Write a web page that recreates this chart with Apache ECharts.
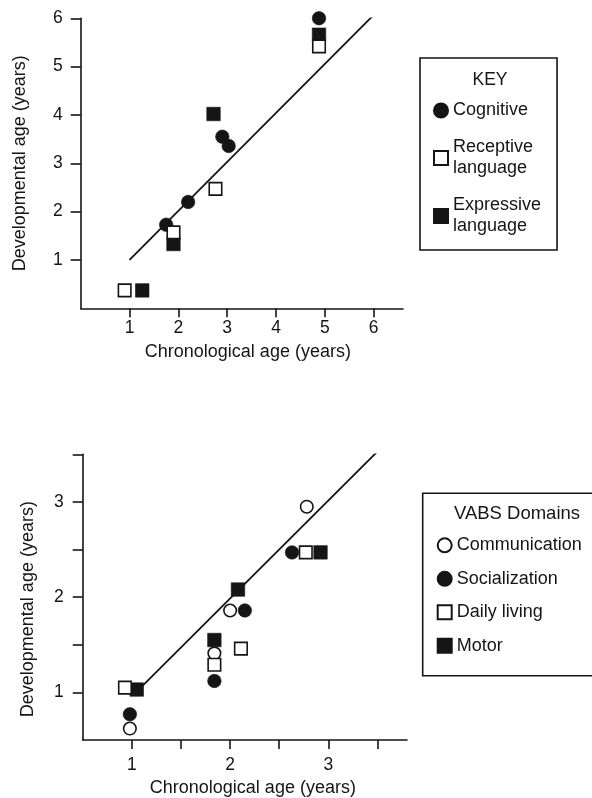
<!DOCTYPE html>
<html>
<head>
<meta charset="utf-8">
<script src="https://cdn.jsdelivr.net/npm/echarts@6/dist/echarts.min.js"></script>
<style>
  html, body { margin: 0; padding: 0; background: #fff; }
  #chart { width: 592px; height: 798px; }
</style>
</head>
<body>
<div id="chart"></div>
<script>
// Upper panel: developmental vs chronological age by test domain
const keyNames = ['Cognitive', 'Receptive language', 'Expressive language'];
const cognitive = [[4.88, 6.0], [2.9, 3.55], [3.03, 3.36], [2.2, 2.2], [1.75, 1.73]];
const receptive = [[4.88, 5.42], [2.76, 2.47], [1.9, 1.57], [0.9, 0.37]];
const expressive = [[4.88, 5.66], [2.72, 4.02], [1.9, 1.33], [1.26, 0.37]];
const fitUpper = [[1, 1], [6, 6.07]];
const upperTicks = [1, 2, 3, 4, 5, 6];

// Lower panel: VABS domain age equivalents
const vabsNames = ['Communication', 'Socialization', 'Daily living', 'Motor'];
const communication = [[0.98, 0.62], [2.78, 2.95], [2.0, 1.86], [1.84, 1.41]];
const socialization = [[0.98, 0.77], [2.63, 2.47], [2.15, 1.86], [1.84, 1.12]];
const dailyLiving = [[0.93, 1.05], [2.77, 2.47], [2.11, 1.46], [1.84, 1.29]];
const motor = [[1.05, 1.03], [2.08, 2.08], [2.92, 2.47], [1.84, 1.55]];
const fitLower = [[1.08, 1.04], [3.5, 3.53]];
const lowerTicks = [1, 1.5, 2, 2.5, 3, 3.5];
const lowerLabels = [1, 2, 3];

const INK = '#151515';
const FONT = '"Liberation Sans", Arial, sans-serif';

const filled = { color: INK, borderColor: INK, borderWidth: 0.6, opacity: 1 };
const hollow = { color: '#fff', borderColor: INK, borderWidth: 1.6, opacity: 1 };

function axisBase(extra) {
  return Object.assign({
    type: 'value',
    splitLine: { show: false },
    axisLine: { show: true, onZero: false, lineStyle: { color: INK, width: 1.6 } },
    nameLocation: 'middle',
    nameTextStyle: { fontFamily: FONT, fontSize: 18, color: INK }
  }, extra);
}

function scatter(name, data, style, symbol, idx) {
  return {
    name, type: 'scatter', data, symbol,
    symbolSize: style === hollow ? 12.5 : 13.5,
    itemStyle: style, xAxisIndex: idx, yAxisIndex: idx, silent: true
  };
}

function fit(data, idx) {
  return {
    type: 'line', data, symbol: 'none', silent: true,
    lineStyle: { color: INK, width: 1.8 }, xAxisIndex: idx, yAxisIndex: idx, z: 1
  };
}

const tickLabel = { fontFamily: FONT, fontSize: 17.5, color: INK };
const tickLine = { color: INK, width: 1.6 };

const option = {
  backgroundColor: '#fff',
  animation: false,
  grid: [
    { left: 80.7, top: 18.3, width: 322.3, height: 290 },
    { left: 82.7, top: 454.3, width: 324.3, height: 289 }
  ],
  xAxis: [
    axisBase({
      gridIndex: 0, min: 0, max: 6.6,
      name: 'Chronological age (years)', nameGap: 35,
      nameTextStyle: { fontFamily: FONT, fontSize: 18, color: INK, padding: [0, 0, 0, 12] },
      axisTick: { show: true, length: 9, customValues: upperTicks, lineStyle: tickLine },
      axisLabel: { customValues: upperTicks, margin: 11, ...tickLabel }
    }),
    axisBase({
      gridIndex: 1, min: 0.5, max: 3.8,
      name: 'Chronological age (years)', nameGap: 39,
      nameTextStyle: { fontFamily: FONT, fontSize: 18, color: INK, padding: [0, 0, 0, 16] },
      axisTick: { show: true, length: 9, customValues: lowerTicks, lineStyle: tickLine },
      axisLabel: { customValues: lowerLabels, margin: 16, ...tickLabel }
    })
  ],
  yAxis: [
    axisBase({
      gridIndex: 0, min: 0, max: 6,
      name: 'Developmental age (years)', nameGap: 52,
      axisTick: { show: true, length: 10, customValues: upperTicks, lineStyle: tickLine },
      axisLabel: { customValues: upperTicks, margin: 18, ...tickLabel }
    }),
    axisBase({
      gridIndex: 1, min: 0.5, max: 3.5,
      name: 'Developmental age (years)', nameGap: 46,
      nameTextStyle: { fontFamily: FONT, fontSize: 18, color: INK, padding: [0, 24, 0, 0] },
      axisTick: { show: true, length: 10, customValues: lowerTicks, lineStyle: tickLine },
      axisLabel: { customValues: lowerLabels, margin: 19, ...tickLabel }
    })
  ],
  title: [
    { text: 'KEY', left: 485, top: 66, textAlign: 'center',
      textStyle: { fontFamily: FONT, fontSize: 17.5, fontWeight: 'normal', color: INK } },
    { text: 'VABS Domains', left: 512, top: 499, textAlign: 'center',
      textStyle: { fontFamily: FONT, fontSize: 18.5, fontWeight: 'normal', color: INK } }
  ],
  legend: [
    {
      data: keyNames, orient: 'vertical', left: 420, top: 58,
      padding: [42, 16, 13, 13], itemGap: 16, itemWidth: 14, itemHeight: 14,
      borderColor: INK, borderWidth: 1.6, selectedMode: false,
      formatter: n => n.replace(' ', '\n'),
      textStyle: { fontFamily: FONT, fontSize: 18, color: INK, lineHeight: 21, width: 88 }
    },
    {
      data: vabsNames, orient: 'vertical', left: 422.7, top: 493.3,
      padding: [42, 24, 20, 14], itemGap: 13.5, itemWidth: 14, itemHeight: 14,
      borderColor: INK, borderWidth: 1.6, selectedMode: false,
      textStyle: { fontFamily: FONT, fontSize: 18, color: INK, lineHeight: 20 }
    }
  ],
  series: [
    fit(fitUpper, 0),
    scatter(keyNames[0], cognitive, filled, 'circle', 0),
    scatter(keyNames[2], expressive, filled, 'rect', 0),
    scatter(keyNames[1], receptive, hollow, 'rect', 0),
    fit(fitLower, 1),
    scatter(vabsNames[3], motor, filled, 'rect', 1),
    scatter(vabsNames[0], communication, hollow, 'circle', 1),
    scatter(vabsNames[2], dailyLiving, hollow, 'rect', 1),
    scatter(vabsNames[1], socialization, filled, 'circle', 1)
  ]
};

const chart = echarts.init(document.getElementById('chart'), null, { renderer: 'canvas' });
chart.setOption(option);
</script>
</body>
</html>
